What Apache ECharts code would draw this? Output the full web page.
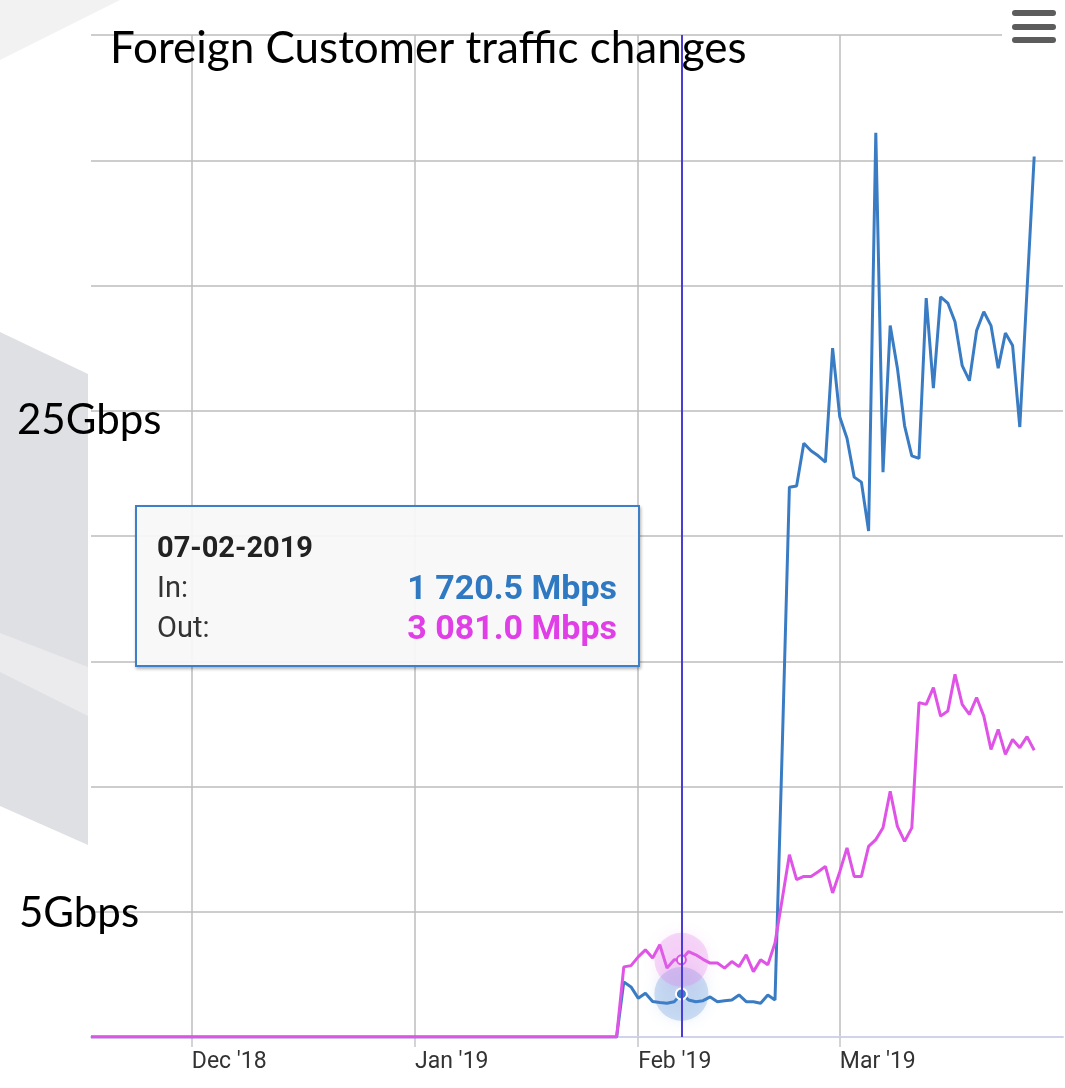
<!DOCTYPE html>
<html>
<head>
<meta charset="utf-8">
<title>Foreign Customer traffic changes</title>
<script src="https://cdn.jsdelivr.net/npm/echarts@6/dist/echarts.min.js"></script>
<style>
html, body { margin: 0; padding: 0; background: #fff; }
#traffic_chart { width: 1065px; height: 1088px; }
</style>
</head>
<body>
<div id="traffic_chart"></div>
<script>
// daily axis: 2018-11-17 .. 2019-04-01
const startDay = '2018-11-17';
const dayCount = 136;

const monthTicks = ['2018-12-01', '2019-01-01', '2019-02-01', '2019-03-01'];
const monthLabels = ["Dec '18", "Jan '19", "Feb '19", "Mar '19"];

const yLabels = { 5: '5Gbps', 25: '25Gbps' };

// Gbps, one value per day from startDay
const inTraffic = [
    0, 0, 0, 0, 0, 0, 0, 0, 0, 0, 0, 0, 0, 0, 0, 0, 0, 0, 0, 0,
    0, 0, 0, 0, 0, 0, 0, 0, 0, 0, 0, 0, 0, 0, 0, 0, 0, 0, 0, 0,
    0, 0, 0, 0, 0, 0, 0, 0, 0, 0, 0, 0, 0, 0, 0, 0, 0, 0, 0, 0,
    0, 0, 0, 0, 0, 0, 0, 0, 0, 0, 0, 0, 0, 0,
    2.2, 2.0, 1.55, 1.75, 1.42, 1.38, 1.35, 1.41, 1.7205, 1.48,
    1.41, 1.45, 1.6, 1.41, 1.45, 1.48, 1.68, 1.41, 1.41, 1.35,
    1.68, 1.48, 11.5, 21.95, 22.0, 23.7, 23.4, 23.2, 22.95, 27.5,
    24.75, 23.9, 22.35, 22.15, 20.2, 36.1, 22.55, 28.4, 26.7, 24.4,
    23.2, 23.1, 29.5, 25.9, 29.55, 29.3, 28.55, 26.8, 26.2, 28.2,
    28.95, 28.4, 26.7, 28.1, 27.6, 24.35, 29.8, 35.15
];
const outTraffic = [
    0, 0, 0, 0, 0, 0, 0, 0, 0, 0, 0, 0, 0, 0, 0, 0, 0, 0, 0, 0,
    0, 0, 0, 0, 0, 0, 0, 0, 0, 0, 0, 0, 0, 0, 0, 0, 0, 0, 0, 0,
    0, 0, 0, 0, 0, 0, 0, 0, 0, 0, 0, 0, 0, 0, 0, 0, 0, 0, 0, 0,
    0, 0, 0, 0, 0, 0, 0, 0, 0, 0, 0, 0, 0, 0,
    2.8, 2.85, 3.2, 3.48, 3.15, 3.68, 2.75, 3.08, 3.081, 3.41,
    3.28, 3.1, 2.95, 2.95, 2.75, 3.01, 2.81, 3.28, 2.61, 3.08,
    2.88, 3.75, 5.5, 7.28, 6.28, 6.41, 6.41, 6.6, 6.81, 5.75,
    6.6, 7.55, 6.41, 6.41, 7.61, 7.88, 8.35, 9.81, 8.41, 7.81,
    8.35, 13.35, 13.28, 13.95, 12.81, 13.01, 14.48, 13.28, 12.88, 13.55,
    12.81, 11.48, 12.28, 11.28, 11.88, 11.55, 11.99, 11.45
];

const tipDate = '2019-02-07';

const days = [];
let t = Date.parse(startDay + 'T00:00:00Z');
for (let i = 0; i < dayCount; i++) {
    days.push(new Date(t + i * 86400000).toISOString().slice(0, 10));
}
const tipIndex = days.indexOf(tipDate);

function isMonthTick(idx, val) {
    return monthTicks.indexOf(val) >= 0;
}
function mbps(v) {
    let s = (v * 1000).toFixed(1).split('.');
    return s[0].replace(/\B(?=(\d{3})+(?!\d))/g, ' ') + '.' + s[1] + ' Mbps';
}

const chart = echarts.init(document.getElementById('traffic_chart'));
chart.setOption({
    animation: false,
    backgroundColor: '#fff',
    title: {
        text: 'Foreign Customer traffic changes',
        left: 105,
        top: 22,
        textStyle: {
            fontFamily: 'Lato',
            fontSize: 44,
            fontWeight: 'normal',
            color: '#000'
        }
    },
    graphic: [
        { type: 'polygon', silent: true, z: -1, shape: { points: [[0, 0], [120, 0], [0, 60]] }, style: { fill: '#f2f2f3' } },
        { type: 'polygon', silent: true, z: -1, shape: { points: [[0, 332], [88, 374], [88, 845], [0, 806]] }, style: { fill: '#dfe0e3' } },
        { type: 'polygon', silent: true, z: -1, shape: { points: [[0, 633], [88, 667], [88, 716], [0, 672]] }, style: { fill: '#ebebed' } },
        { type: 'rect', silent: true, z: 10, shape: { x: 1002, y: 0, width: 63, height: 50 }, style: { fill: '#fff' } },
        { type: 'rect', silent: true, z: 11, shape: { x: 1012, y: 10, width: 44, height: 6, r: 3 }, style: { fill: '#5c5c5c' } },
        { type: 'rect', silent: true, z: 11, shape: { x: 1012, y: 24, width: 44, height: 6, r: 3 }, style: { fill: '#5c5c5c' } },
        { type: 'rect', silent: true, z: 11, shape: { x: 1012, y: 37, width: 44, height: 6, r: 3 }, style: { fill: '#5c5c5c' } }
    ],
    grid: {
        left: 91,
        right: 2,
        top: 35,
        bottom: 51,
        containLabel: false,
        outerBoundsMode: 'none'
    },
    tooltip: {
        trigger: 'axis',
        triggerOn: 'none',
        alwaysShowContent: true,
        transitionDuration: 0,
        position: [135, 505],
        backgroundColor: 'rgba(247,247,247,0.93)',
        borderColor: '#3d80c9',
        borderWidth: 2,
        padding: [20, 21, 18, 20],
        extraCssText: 'border-radius:0;box-shadow:1px 2px 3px rgba(0,0,0,0.3);',
        axisPointer: {
            type: 'line',
            animation: false,
            lineStyle: { color: '#4a3dd6', width: 2, type: 'solid' }
        },
        formatter: function (params) {
            let d = params[0].axisValue.split('-');
            let row = 'display:flex;justify-content:space-between;align-items:center;height:40px;';
            return '<div style="width:460px;font-family:Roboto;">' +
                '<div style="height:40px;line-height:40px;font-size:29px;font-weight:bold;color:#222;">' + d[2] + '-' + d[1] + '-' + d[0] + '</div>' +
                '<div style="' + row + '"><span style="font-size:29px;color:#333;">In:</span>' +
                '<span style="font-size:34px;font-weight:bold;color:#2f78c2;">' + mbps(params[0].value) + '</span></div>' +
                '<div style="' + row + '"><span style="font-size:29px;color:#333;">Out:</span>' +
                '<span style="font-size:34px;font-weight:bold;color:#e03ee6;">' + mbps(params[1].value) + '</span></div>' +
                '</div>';
        }
    },
    xAxis: {
        type: 'category',
        boundaryGap: false,
        data: days,
        axisLine: { lineStyle: { color: '#cfd4ea', width: 2 } },
        axisTick: { show: true, interval: isMonthTick, length: 10, lineStyle: { color: '#c6c6cc', width: 1.5 } },
        axisLabel: {
            interval: isMonthTick,
            formatter: function (val) { return monthLabels[monthTicks.indexOf(val)]; },
            align: 'left',
            margin: 14,
            fontFamily: 'Roboto',
            fontSize: 23,
            color: '#333'
        },
        splitLine: { show: true, interval: isMonthTick, lineStyle: { color: '#bdbdbd', width: 1.5 } }
    },
    yAxis: {
        type: 'value',
        min: 0,
        max: 40,
        interval: 5,
        axisLine: { show: false },
        axisTick: { show: false },
        splitLine: { lineStyle: { color: '#bdbdbd', width: 1.5 } },
        axisLabel: {
            align: 'left',
            margin: 74,
            formatter: function (v) {
                if (v === 25) return '{a|' + yLabels[25] + '}';
                if (v === 5) return '{b|' + yLabels[5] + '}';
                return '';
            },
            rich: {
                a: { fontFamily: 'Lato', fontSize: 42, color: '#000', padding: [20, 0, 0, 0] },
                b: { fontFamily: 'Lato', fontSize: 42, color: '#000', padding: [4, 0, 0, 2] }
            }
        }
    },
    series: [{
        name: 'In',
        type: 'line',
        data: inTraffic,
        symbol: 'none',
        z: 3,
        emphasis: { disabled: true },
        lineStyle: { color: '#3a7cc3', width: 3 },
        itemStyle: { color: '#3a7cc3' },
        markPoint: {
            silent: true,
            label: { show: false },
            data: [{
                coord: [tipDate, inTraffic[tipIndex]],
                symbol: 'circle',
                symbolSize: 54,
                itemStyle: { color: 'rgba(70,130,210,0.25)', shadowBlur: 14, shadowColor: 'rgba(70,130,210,0.45)' }
            }, {
                coord: [tipDate, inTraffic[tipIndex]],
                symbol: 'circle',
                symbolSize: 11,
                itemStyle: { color: '#3a7cc3', borderColor: '#fff', borderWidth: 2 }
            }]
        }
    }, {
        name: 'Out',
        type: 'line',
        data: outTraffic,
        symbol: 'none',
        z: 4,
        emphasis: { disabled: true },
        lineStyle: { color: '#df53e6', width: 3 },
        itemStyle: { color: '#df53e6' },
        markPoint: {
            silent: true,
            label: { show: false },
            data: [{
                coord: [tipDate, outTraffic[tipIndex]],
                symbol: 'circle',
                symbolSize: 54,
                itemStyle: { color: 'rgba(225,110,232,0.25)', shadowBlur: 14, shadowColor: 'rgba(225,110,232,0.45)' }
            }, {
                coord: [tipDate, outTraffic[tipIndex]],
                symbol: 'circle',
                symbolSize: 9,
                itemStyle: { color: '#fbe6fc', borderColor: '#df53e6', borderWidth: 2 }
            }]
        }
    }]
});
chart.dispatchAction({ type: 'showTip', seriesIndex: 0, dataIndex: tipIndex });

window.addEventListener('resize', function () {
    chart.resize();
});
</script>
</body>
</html>
